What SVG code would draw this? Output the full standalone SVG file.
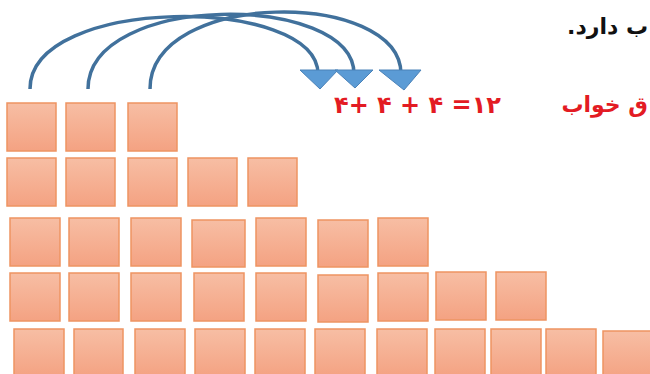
<svg xmlns="http://www.w3.org/2000/svg" width="650" height="374" viewBox="0 0 650 374">
<defs>
<linearGradient id="g" x1="0" y1="0" x2="0" y2="1">
<stop offset="0" stop-color="#f7bea4"/>
<stop offset="1" stop-color="#f4a282"/>
</linearGradient>
</defs>
<style>
.b{fill:url(#g);stroke:#ee9462;stroke-width:1.5}
.arc{fill:none;stroke:#41719c;stroke-width:3.5}
.head{fill:#5b9bd5;stroke:#4a82b8;stroke-width:1}
.t{font-family:"DejaVu Sans",sans-serif;font-weight:bold}
</style>
<rect width="650" height="374" fill="#ffffff"/>
<g id="connectors">
<path class="arc" d="M30,89 C30,-5 318,-5 318,74"/>
<path class="arc" d="M88,89 C88,-8 354,-8 354,74"/>
<path class="arc" d="M150,89 C150,-11 401,-11 401,74"/>
<polygon class="head" points="300,70 338,70 320,89"/>
<polygon class="head" points="335,70 373,70 355,88"/>
<polygon class="head" points="379,70 421,70 404,90"/>
</g>
<g id="texts">
<text class="t" x="648" y="34" font-size="22" fill="#111111" direction="rtl">ب دارد.</text>
<text class="t" x="648" y="112" font-size="22" fill="#e31b23" direction="rtl">ق خواب</text>
<text class="t" x="334" y="113" font-size="24" fill="#e31b23" direction="ltr" unicode-bidi="bidi-override">۴+ ۴ + ۴ =۱۲</text>
</g>
<g id="row1">
<rect id="r1c1" class="b" x="7" y="103" width="49" height="48"/>
<rect id="r1c2" class="b" x="66" y="103" width="49" height="48"/>
<rect id="r1c3" class="b" x="128" y="103" width="49" height="48"/>
</g>
<g id="row2">
<rect id="r2c1" class="b" x="7" y="158" width="49" height="48"/>
<rect id="r2c2" class="b" x="66" y="158" width="49" height="48"/>
<rect id="r2c3" class="b" x="128" y="158" width="49" height="48"/>
<rect id="r2c4" class="b" x="188" y="158" width="49" height="48"/>
<rect id="r2c5" class="b" x="248" y="158" width="49" height="48"/>
</g>
<g id="row3">
<rect id="r3c1" class="b" x="10" y="218" width="50" height="48"/>
<rect id="r3c2" class="b" x="69" y="218" width="50" height="48"/>
<rect id="r3c3" class="b" x="131" y="218" width="50" height="48"/>
<rect id="r3c4" class="b" x="192" y="220" width="53" height="47"/>
<rect id="r3c5" class="b" x="256" y="218" width="50" height="48"/>
<rect id="r3c6" class="b" x="318" y="220" width="50" height="47"/>
<rect id="r3c7" class="b" x="378" y="218" width="50" height="48"/>
</g>
<g id="row4">
<rect id="r4c1" class="b" x="10" y="273" width="50" height="48"/>
<rect id="r4c2" class="b" x="69" y="273" width="50" height="48"/>
<rect id="r4c3" class="b" x="131" y="273" width="50" height="48"/>
<rect id="r4c4" class="b" x="194" y="273" width="50" height="48"/>
<rect id="r4c5" class="b" x="256" y="273" width="50" height="48"/>
<rect id="r4c6" class="b" x="318" y="275" width="50" height="47"/>
<rect id="r4c7" class="b" x="378" y="273" width="50" height="48"/>
<rect id="r4c8" class="b" x="436" y="272" width="50" height="48"/>
<rect id="r4c9" class="b" x="496" y="272" width="50" height="48"/>
</g>
<g id="row5">
<rect id="r5c1" class="b" x="14" y="329" width="50" height="48"/>
<rect id="r5c2" class="b" x="74" y="329" width="49" height="48"/>
<rect id="r5c3" class="b" x="135" y="329" width="50" height="48"/>
<rect id="r5c4" class="b" x="195" y="329" width="50" height="48"/>
<rect id="r5c5" class="b" x="255" y="329" width="50" height="48"/>
<rect id="r5c6" class="b" x="315" y="329" width="50" height="48"/>
<rect id="r5c7" class="b" x="377" y="329" width="50" height="48"/>
<rect id="r5c8" class="b" x="435" y="329" width="50" height="48"/>
<rect id="r5c9" class="b" x="491" y="329" width="50" height="48"/>
<rect id="r5c10" class="b" x="546" y="329" width="50" height="48"/>
<rect id="r5c11" class="b" x="603" y="331" width="50" height="48"/>
</g>
</svg>
